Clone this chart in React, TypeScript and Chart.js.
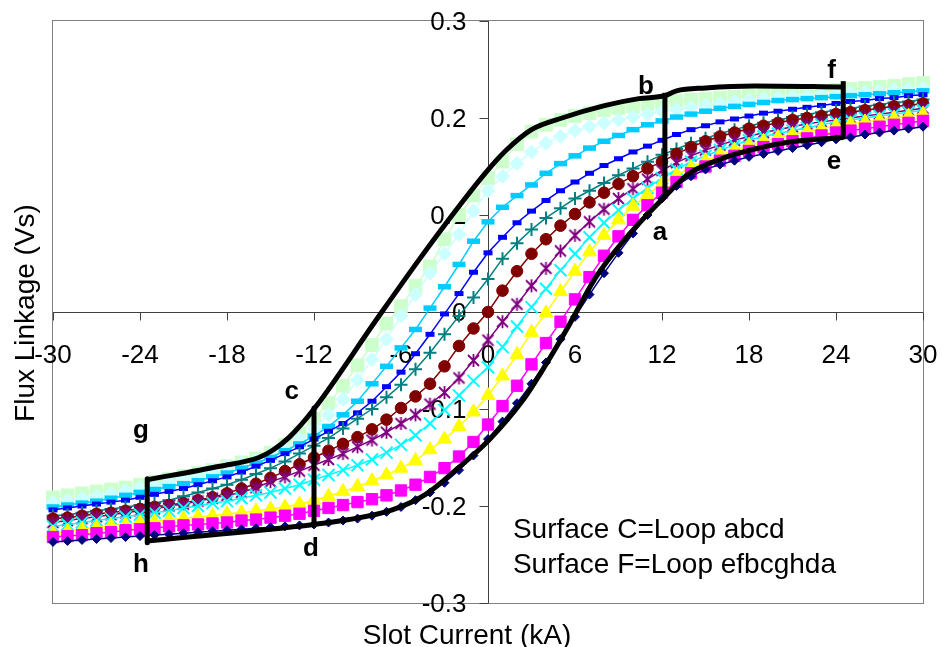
import React, { useEffect, useRef } from 'react';
import { Chart, registerables } from 'chart.js';

Chart.register(...registerables);

// ---------- data ----------
const X_VALUES = [-30,-29,-28,-27,-26,-25,-24,-23,-22,-21,-20,-19,-18,-17,-16,-15,-14,-13,-12,-11,-10,-9,-8,-7,-6,-5,-4,-3,-2,-1,0,1,2,3,4,5,6,7,8,9,10,11,12,13,14,15,16,17,18,19,20,21,22,23,24,25,26,27,28,29,30];

const X_TICKS = [-30, -24, -18, -12, -6, 0, 6, 12, 18, 24, 30];
const X_TICK_LABELS = ['-30', '-24', '-18', '-12', '-6', '0', '6', '12', '18', '24', '30'];
const Y_TICKS = [-0.3, -0.2, -0.1, 0, 0.1, 0.2, 0.3];
const Y_TICK_LABELS = ['-0.3', '-0.2', '-0.1', '0', '0.1', '0.2', '0.3'];

const NAVY = [-0.237,-0.236,-0.235,-0.234,-0.233,-0.232,-0.231,-0.230,-0.229,-0.228,
  -0.227,-0.226,-0.225,-0.224,-0.223,-0.222,-0.221,-0.220,-0.219,-0.217,
  -0.215,-0.213,-0.210,-0.206,-0.201,-0.194,-0.186,-0.176,-0.163,-0.148,
  -0.131,
  -0.113,-0.094,-0.074,-0.052,-0.028,-0.005,0.018,0.040,0.061,0.081,
  0.100,0.117,0.130,0.140,0.147,0.152,0.156,0.160,0.163,0.166,
  0.169,0.172,0.175,0.178,0.180,0.183,0.185,0.187,0.189,0.191];

const MAGENTA = [-0.232,-0.231,-0.230,-0.228,-0.227,-0.225,-0.224,-0.223,-0.221,-0.220,
  -0.219,-0.218,-0.217,-0.215,-0.214,-0.212,-0.210,-0.208,-0.205,-0.202,
  -0.199,-0.196,-0.193,-0.189,-0.184,-0.178,-0.170,-0.161,-0.149,-0.134,
  -0.116,
  -0.097,-0.076,-0.054,-0.032,-0.010,0.013,0.036,0.058,0.078,0.095,
  0.110,0.123,0.134,0.143,0.150,0.156,0.161,0.166,0.170,0.173,
  0.176,0.179,0.182,0.185,0.187,0.189,0.191,0.193,0.195,0.197];

const YELLOW = [-0.228,-0.226,-0.224,-0.222,-0.220,-0.219,-0.217,-0.216,-0.214,-0.213,
  -0.211,-0.210,-0.208,-0.207,-0.205,-0.203,-0.201,-0.198,-0.194,-0.190,
  -0.185,-0.180,-0.174,-0.168,-0.161,-0.153,-0.142,-0.131,-0.118,-0.103,
  -0.086,
  -0.066,-0.044,-0.021,-0.001,0.021,0.042,0.062,0.079,0.095,0.109,
  0.121,0.132,0.141,0.149,0.156,0.162,0.167,0.172,0.176,0.180,
  0.183,0.186,0.189,0.192,0.194,0.196,0.198,0.200,0.202,0.204];

const CYAN = [-0.221,-0.219,-0.217,-0.215,-0.213,-0.211,-0.209,-0.207,-0.205,-0.202,
  -0.200,-0.197,-0.195,-0.192,-0.189,-0.186,-0.182,-0.178,-0.173,-0.168,
  -0.163,-0.158,-0.152,-0.145,-0.137,-0.127,-0.115,-0.101,-0.086,-0.071,
  -0.057,
  -0.036,-0.015,0.005,0.024,0.043,0.060,0.077,0.092,0.105,0.117,
  0.128,0.138,0.147,0.155,0.161,0.167,0.172,0.177,0.181,0.184,
  0.187,0.190,0.193,0.196,0.198,0.200,0.202,0.204,0.206,0.208];

const PURPLE = [-0.217,-0.215,-0.213,-0.211,-0.209,-0.207,-0.205,-0.203,-0.200,-0.198,
  -0.195,-0.192,-0.189,-0.186,-0.181,-0.175,-0.170,-0.164,-0.158,-0.152,
  -0.146,-0.139,-0.132,-0.124,-0.115,-0.106,-0.095,-0.083,-0.068,-0.050,
  -0.029,
  -0.010,0.008,0.027,0.045,0.063,0.079,0.093,0.106,0.117,0.127,
  0.137,0.146,0.154,0.161,0.167,0.172,0.177,0.181,0.185,0.188,
  0.191,0.194,0.196,0.198,0.200,0.202,0.204,0.206,0.208,0.210];

const DARKRED = [-0.213,-0.212,-0.210,-0.208,-0.207,-0.205,-0.203,-0.201,-0.199,-0.197,
  -0.194,-0.191,-0.187,-0.182,-0.177,-0.171,-0.164,-0.157,-0.150,-0.143,
  -0.136,-0.129,-0.121,-0.111,-0.099,-0.087,-0.074,-0.056,-0.035,-0.017,
  0.000,
  0.022,0.042,0.060,0.075,0.089,0.101,0.113,0.123,0.132,0.140,
  0.148,0.155,0.163,0.170,0.176,0.181,0.185,0.189,0.192,0.195,
  0.198,0.200,0.202,0.204,0.206,0.208,0.210,0.212,0.213,0.215];

const TEAL = [-0.210,-0.209,-0.207,-0.205,-0.203,-0.201,-0.199,-0.197,-0.194,-0.190,
  -0.186,-0.182,-0.178,-0.173,-0.167,-0.161,-0.154,-0.146,-0.138,-0.130,
  -0.120,-0.110,-0.100,-0.088,-0.075,-0.059,-0.042,-0.023,-0.004,0.015,
  0.034,
  0.055,0.071,0.085,0.097,0.107,0.117,0.125,0.133,0.141,0.148,
  0.155,0.162,0.168,0.174,0.179,0.184,0.188,0.192,0.195,0.198,
  0.201,0.204,0.206,0.208,0.210,0.212,0.214,0.216,0.217,0.219];

const BLUE = [-0.204,-0.202,-0.200,-0.198,-0.196,-0.194,-0.191,-0.188,-0.185,-0.182,
  -0.178,-0.174,-0.170,-0.165,-0.159,-0.153,-0.146,-0.139,-0.131,-0.123,
  -0.115,-0.104,-0.092,-0.077,-0.062,-0.043,-0.023,-0.002,0.019,0.041,
  0.061,
  0.077,0.092,0.104,0.115,0.125,0.134,0.143,0.151,0.158,0.165,
  0.171,0.177,0.183,0.188,0.192,0.196,0.199,0.202,0.205,0.207,
  0.209,0.211,0.213,0.215,0.217,0.218,0.220,0.221,0.223,0.224];

const SKY = [-0.201,-0.199,-0.197,-0.195,-0.192,-0.189,-0.186,-0.183,-0.180,-0.177,
  -0.174,-0.170,-0.166,-0.161,-0.156,-0.150,-0.143,-0.136,-0.128,-0.118,
  -0.106,-0.092,-0.074,-0.056,-0.037,-0.018,0.004,0.026,0.049,0.073,
  0.093,
  0.108,0.120,0.131,0.143,0.153,0.161,0.169,0.176,0.182,0.188,
  0.193,0.197,0.201,0.204,0.207,0.210,0.212,0.214,0.216,0.218,
  0.219,0.220,0.221,0.222,0.223,0.224,0.225,0.226,0.227,0.228];

const PALECYAN = [-0.196,-0.194,-0.192,-0.190,-0.187,-0.184,-0.181,-0.178,-0.175,-0.171,
  -0.167,-0.163,-0.159,-0.156,-0.153,-0.147,-0.140,-0.131,-0.120,-0.106,
  -0.090,-0.070,-0.049,-0.028,-0.004,0.018,0.040,0.060,0.080,0.104,
  0.125,
  0.140,0.153,0.165,0.174,0.181,0.187,0.191,0.195,0.198,0.201,
  0.204,0.207,0.209,0.211,0.213,0.215,0.217,0.218,0.220,0.221,
  0.222,0.223,0.224,0.225,0.226,0.227,0.228,0.229,0.230,0.231];

const PALEGREEN = [-0.191,-0.189,-0.187,-0.185,-0.183,-0.181,-0.178,-0.175,-0.172,-0.169,
  -0.166,-0.163,-0.159,-0.155,-0.151,-0.145,-0.137,-0.125,-0.110,-0.094,
  -0.076,-0.055,-0.034,-0.012,0.006,0.027,0.047,0.075,0.100,0.120,
  0.138,
  0.155,0.173,0.186,0.193,0.198,0.202,0.205,0.208,0.210,0.212,
  0.214,0.216,0.218,0.219,0.220,0.221,0.222,0.223,0.224,0.225,
  0.226,0.227,0.228,0.229,0.230,0.231,0.232,0.233,0.235,0.236];

// black loop outline
const UPPER_X = [-23.5, -18.5, -15.8, -14.8, -13.7, -12.0, -7.7, -4.75, -2.0, -0.2, 1.2, 3.0, 5.1, 8.1, 10.4, 12.2, 13.0, 15.0, 18.4, 24.4];
const UPPER_Y = [-0.173, -0.159, -0.150, -0.142, -0.129, -0.100, -0.008, 0.054, 0.109, 0.143, 0.166, 0.188, 0.200, 0.213, 0.220, 0.223, 0.228, 0.231, 0.233, 0.232];
const LOWER_X = [-23.5, -12.0, -9.6, -6.6, -4.3, -2.0, 0.0, 2.4, 4.0, 5.5, 7.4, 9.5, 12.2, 13.8, 16.1, 18.4, 20.7, 24.5];
const LOWER_Y = [-0.236, -0.219, -0.214, -0.204, -0.188, -0.160, -0.133, -0.091, -0.054, -0.016, 0.035, 0.076, 0.119, 0.142, 0.158, 0.168, 0.175, 0.180];
const CD_X = [-12.0, -12.0];
const CD_Y = [-0.099, -0.220];
const AB_X = [12.2, 12.2];
const AB_Y = [0.118, 0.226];
const EF_X = [24.5, 24.5];
const EF_Y = [0.178, 0.238];
const GH_X = [-23.5, -23.5];
const GH_Y = [-0.172, -0.238];

const LETTERS = ['a', 'b', 'c', 'd', 'e', 'f', 'g', 'h'];
const LETTER_X = [11.86, 10.9, -13.54, -12.21, 23.86, 23.7, -23.94, -23.94];
const LETTER_Y = [0.074, 0.225, -0.090, -0.252, 0.147, 0.241, -0.130, -0.268];

const NOTES = ['Surface C=Loop abcd', 'Surface F=Loop efbcghda'];
const NOTE_X = [1.72, 1.72];
const NOTE_Y = [-0.233, -0.269];

const X_TITLE = 'Slot Current (kA)';
const Y_TITLE = 'Flux Linkage (Vs)';

// ---------- styling ----------
const FONT = '"Liberation Sans", Arial, Helvetica, sans-serif';

function makeStar(color: string): HTMLCanvasElement {
  const size = 15;
  const c = document.createElement('canvas');
  c.width = size;
  c.height = size;
  const g = c.getContext('2d');
  if (g) {
    const h = size / 2;
    g.strokeStyle = color;
    g.lineWidth = 1.8;
    g.beginPath();
    g.moveTo(h, h - 6.5);
    g.lineTo(h, h + 6.5);
    g.moveTo(h - 5.5, h - 5.5);
    g.lineTo(h + 5.5, h + 5.5);
    g.moveTo(h + 5.5, h - 5.5);
    g.lineTo(h - 5.5, h + 5.5);
    g.stroke();
  }
  return c;
}

const SERIES = [
  { name: 'S1', values: NAVY, color: '#000080', style: 'rectRot', r: 4.5, bw: 1 },
  { name: 'S2', values: MAGENTA, color: '#FF00FF', style: 'rect', r: 8, bw: 1 },
  { name: 'S3', values: YELLOW, color: '#FFFF00', style: 'triangle', r: 8, bw: 1 },
  { name: 'S4', values: CYAN, color: '#00FFFF', style: 'crossRot', r: 8.5, bw: 2 },
  { name: 'S5', values: PURPLE, color: '#800080', style: 'star6', r: 7, bw: 2 },
  { name: 'S6', values: DARKRED, color: '#800000', style: 'circle', r: 5.8, bw: 1 },
  { name: 'S7', values: TEAL, color: '#008080', style: 'cross', r: 6.5, bw: 2 },
  { name: 'S8', values: BLUE, color: '#0000FF', style: 'line', r: 4.5, bw: 5 },
  { name: 'S9', values: SKY, color: '#00CCFF', style: 'line', r: 6.5, bw: 5.5 },
  { name: 'S10', values: PALECYAN, color: '#CCFFFF', style: 'rectRot', r: 7, bw: 1 },
  { name: 'S11', values: PALEGREEN, color: '#CCFFCC', style: 'rect', r: 9, bw: 1 },
];

const pts = (xs: number[], ys: number[]) => xs.map((x, i) => ({ x, y: ys[i] }));

const blackLine = (xs: number[], ys: number[], curved: boolean) => ({
  label: 'loop',
  data: pts(xs, ys),
  borderColor: '#000000',
  backgroundColor: '#000000',
  borderWidth: 5,
  pointRadius: 0,
  pointHoverRadius: 0,
  borderJoinStyle: 'round',
  borderCapStyle: 'butt',
  cubicInterpolationMode: curved ? 'monotone' : 'default',
  tension: 0,
  clip: false,
});

const framePlugin = {
  id: 'framePlugin',
  beforeDatasetsDraw(chart: any) {
    const { ctx, chartArea: a, scales } = chart;
    const xs = scales.x;
    const ys = scales.y;
    ctx.save();
    ctx.strokeStyle = '#808080';
    ctx.lineWidth = 1;
    ctx.strokeRect(Math.round(a.left) - 0.5, Math.round(a.top) - 0.5, Math.round(a.right - a.left) + 1, Math.round(a.bottom - a.top) + 1);
    const x0 = Math.round(xs.getPixelForValue(0)) + 0.5;
    const y0 = Math.round(ys.getPixelForValue(0)) + 0.5;
    ctx.strokeStyle = '#404040';
    ctx.beginPath();
    ctx.moveTo(a.left, y0);
    ctx.lineTo(a.right, y0);
    ctx.moveTo(x0, a.top);
    ctx.lineTo(x0, a.bottom);
    X_TICKS.forEach((v) => {
      const px = Math.round(xs.getPixelForValue(v)) + 0.5;
      ctx.moveTo(px, y0);
      ctx.lineTo(px, y0 + 8);
    });
    Y_TICKS.forEach((v) => {
      const py = Math.round(ys.getPixelForValue(v)) + 0.5;
      ctx.moveTo(x0 - 9, py);
      ctx.lineTo(x0, py);
    });
    ctx.stroke();
    ctx.fillStyle = '#000000';
    ctx.font = `26px ${FONT}`;
    ctx.textBaseline = 'alphabetic';
    ctx.textAlign = 'center';
    X_TICKS.forEach((v, i) => {
      ctx.fillText(X_TICK_LABELS[i], xs.getPixelForValue(v), y0 + 50);
    });
    ctx.textAlign = 'right';
    Y_TICKS.forEach((v, i) => {
      ctx.fillText(Y_TICK_LABELS[i], x0 - 22, ys.getPixelForValue(v) + 9);
    });
    ctx.restore();
  },
  afterDraw(chart: any) {
    const { ctx, scales } = chart;
    const xs = scales.x;
    const ys = scales.y;
    ctx.save();
    ctx.fillStyle = '#000000';
    ctx.textBaseline = 'alphabetic';
    ctx.font = `28px ${FONT}`;
    ctx.textAlign = 'center';
    ctx.fillText(X_TITLE, 467, 644);
    ctx.save();
    ctx.translate(34, 313);
    ctx.rotate(-Math.PI / 2);
    ctx.fillText(Y_TITLE, 0, 0);
    ctx.restore();
    ctx.font = `bold 26px ${FONT}`;
    ctx.textAlign = 'center';
    LETTERS.forEach((t, i) => {
      ctx.fillText(t, xs.getPixelForValue(LETTER_X[i]), ys.getPixelForValue(LETTER_Y[i]));
    });
    ctx.font = `28px ${FONT}`;
    ctx.textAlign = 'left';
    NOTES.forEach((t, i) => {
      ctx.fillText(t, xs.getPixelForValue(NOTE_X[i]), ys.getPixelForValue(NOTE_Y[i]));
    });
    ctx.restore();
  },
};

export default function App() {
  const canvasRef = useRef<HTMLCanvasElement | null>(null);

  useEffect(() => {
    const canvas = canvasRef.current;
    if (!canvas) return;

    const loops = [
      blackLine(UPPER_X, UPPER_Y, true),
      blackLine(LOWER_X, LOWER_Y, true),
      blackLine(CD_X, CD_Y, false),
      blackLine(AB_X, AB_Y, false),
      blackLine(EF_X, EF_Y, false),
      blackLine(GH_X, GH_Y, false),
    ];

    const seriesSets = SERIES.map((s) => ({
      label: s.name,
      data: pts(X_VALUES, s.values),
      borderColor: s.color,
      backgroundColor: s.color,
      borderWidth: 1.5,
      pointStyle: s.style === 'star6' ? makeStar(s.color) : s.style,
      pointRadius: s.r,
      pointHoverRadius: s.r,
      pointBorderWidth: s.bw,
      pointBackgroundColor: s.color,
      pointBorderColor: s.color,
      tension: 0,
      clip: false,
    }));

    const chart = new Chart(canvas, {
      type: 'line',
      data: { datasets: [...loops, ...seriesSets] as any },
      options: {
        animation: false,
        responsive: false,
        maintainAspectRatio: false,
        devicePixelRatio: 1,
        events: [],
        layout: { padding: { left: 53, top: 21, right: 20, bottom: 44 } },
        plugins: {
          legend: { display: false },
          tooltip: { enabled: false },
        },
        scales: {
          x: { type: 'linear', min: -30, max: 30, display: false },
          y: { type: 'linear', min: -0.3, max: 0.3, display: false },
        },
      } as any,
      plugins: [framePlugin as any],
    });

    return () => chart.destroy();
  }, []);

  return (
    <div style={{ position: 'absolute', left: 0, top: 0, width: 943, height: 647, background: '#ffffff' }}>
      <canvas ref={canvasRef} width={943} height={647} style={{ display: 'block', width: 943, height: 647 }} />
    </div>
  );
}
